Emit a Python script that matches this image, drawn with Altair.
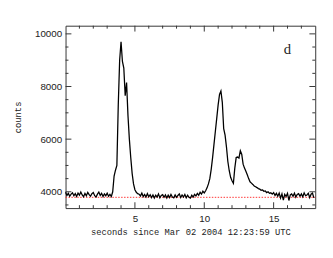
import altair as alt
import pandas as pd
import numpy as np

bin_width = 0.1
counts = [
    3980, 3860, 3940, 3830, 3910, 3960, 3850, 3930, 3820, 3950,
    3870, 3990, 3880, 3810, 3940, 3850, 3980, 3890, 3830, 3930,
    3970, 3850, 3800, 3910, 3990, 3860, 3940, 3820, 3920, 3850,
    3950, 3830, 3900, 3820,
    4000, 4600, 4820, 5000, 7300, 9000, 9700, 8950, 8700, 7650,
    8150, 6900, 6000, 5300, 4700, 4300, 4080, 3980, 3930,
    3910, 3840, 3950, 3820, 3900, 3800, 3930, 3810,
    3890, 3780, 3880, 3760, 3870, 3800, 3920, 3770, 3860, 3890,
    3790, 3880, 3760, 3870, 3780, 3900, 3800, 3770, 3880, 3790,
    3860, 3920, 3780, 3880, 3800, 3900, 3770, 3870, 3790, 3760,
    3870, 3800, 3900, 3840, 3940, 3870, 3980, 3910, 4020, 3960,
    4040, 4150, 4300, 4500, 4850, 5300, 5800, 6300, 6800, 7300,
    7700, 7830, 7400, 6400, 6150, 5700, 5150, 4800, 4550, 4420,
    4320, 4900, 5300, 5320, 5280, 5560, 5430, 5050, 4900, 4780,
    4650, 4500, 4380, 4330, 4280, 4220, 4190, 4160, 4120, 4100,
    4060, 4070, 4020, 4030, 3970, 4000, 3940, 3960, 3910,
    3970, 3860, 3940, 3830, 3950, 3760, 3920, 3680, 3900, 3820,
    3940, 3670, 3880, 3920, 3830, 3950, 3800, 3900, 3930, 3830,
    3920, 3810, 3960, 3850, 3880, 3940, 3780, 3910, 3950, 3770,
]
times = np.arange(len(counts)) * bin_width

background_level = 3790
x_domain = [0, 18]
y_domain = [3380, 10310]
y_major = [4000, 6000, 8000, 10000]
y_minor = list(range(3500, 10001, 500))
x_major = [5, 10, 15]
x_minor = list(range(1, 18))
panel_label = "d"

W, H = 256, 187

df = pd.DataFrame({"t": times, "counts": counts})

xs = alt.Scale(domain=x_domain, nice=False, zero=False)
ys = alt.Scale(domain=y_domain, nice=False, zero=False)

title_font = "Liberation Mono"

line = alt.Chart(df).mark_line(
    color="black", strokeWidth=1.3, interpolate="linear"
).encode(
    x=alt.X("t:Q", scale=xs, axis=alt.Axis(
        title="seconds since Mar 02 2004  12:23:59  UTC",
        values=x_major, ticks=False, grid=False, domain=False, format="d",
        labelFont="Liberation Sans", labelFontSize=10, labelColor="#222",
        labelPadding=6, titleFont=title_font, titleFontSize=9,
        titleFontWeight="normal", titleColor="#222", titlePadding=4)),
    y=alt.Y("counts:Q", scale=ys, axis=alt.Axis(
        title="counts", values=y_major, ticks=False, grid=False, domain=False,
        format="d",
        labelFont="Liberation Sans", labelFontSize=10, labelColor="#222",
        labelPadding=4, titleFont=title_font, titleFontSize=9,
        titleFontWeight="normal", titleColor="#222", titlePadding=12)),
)

bg = alt.Chart(pd.DataFrame({"t0": [x_domain[0]], "t1": [x_domain[1]], "v": [background_level]})).mark_rule(
    color="#ff3030", strokeWidth=1, strokeDash=[1.5, 1.5]
).encode(x=alt.X("t0:Q", scale=xs), x2="t1:Q", y=alt.Y("v:Q", scale=ys))

xt = pd.DataFrame({"t": x_minor, "major": [v in x_major for v in x_minor]})
yt = pd.DataFrame({"v": y_minor, "major": [v in y_major for v in y_minor]})

def xticks(major, y0, y1):
    d = xt[xt.major == major]
    return alt.Chart(d).mark_rule(color="#333", strokeWidth=1).encode(
        x=alt.X("t:Q", scale=xs), y=alt.value(y0), y2=alt.value(y1))

def yticks(major, x0, x1):
    d = yt[yt.major == major]
    return alt.Chart(d).mark_rule(color="#333", strokeWidth=1).encode(
        y=alt.Y("v:Q", scale=ys), x=alt.value(x0), x2=alt.value(x1))

ticks = [
    xticks(True, H, H - 6), xticks(False, H, H - 3),
    xticks(True, 0, 6), xticks(False, 0, 3),
    yticks(True, 0, 6), yticks(False, 0, 3),
    yticks(True, W, W - 6), yticks(False, W, W - 3),
]

label = alt.Chart(pd.DataFrame({"t": [16.0], "v": [9420], "s": [panel_label]})).mark_text(
    font="Liberation Serif", fontSize=15, color="#222"
).encode(x=alt.X("t:Q", scale=xs), y=alt.Y("v:Q", scale=ys), text="s:N")

chart = alt.layer(bg, line, *ticks, label).properties(
    width=W, height=H,
    autosize=alt.AutoSizeParams(type="none"),
    padding={"left": 59, "top": 15, "right": 10, "bottom": 48},
).configure_view(stroke="#333", strokeWidth=1)

chart.save("out.html", embed_options={"renderer": "svg", "actions": False})
